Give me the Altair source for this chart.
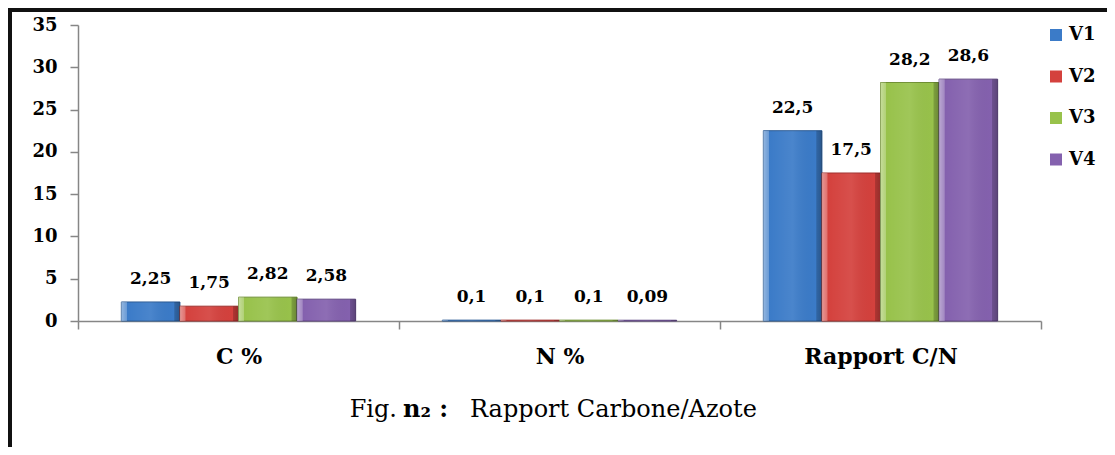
import altair as alt
import pandas as pd

categories = ["C %", "N %", "Rapport C/N"]
series = ["V1", "V2", "V3", "V4"]
v1 = [2.25, 0.1, 22.5]
v2 = [1.75, 0.1, 17.5]
v3 = [2.82, 0.1, 28.2]
v4 = [2.58, 0.09, 28.6]
colors = ["#3B7BC8", "#D4413D", "#98C24B", "#8461AE"]
edges = ["#2A5A94", "#9E2F2C", "#6F8F33", "#5E4582"]
y_ticks = [0, 5, 10, 15, 20, 25, 30, 35]
caption_parts = ["Fig.", "n\u2082 :", "Rapport Carbone/Azote"]

rows = []
for s, vals in zip(series, [v1, v2, v3, v4]):
    for c, v in zip(categories, vals):
        rows.append({"cat": c, "series": s, "value": v,
                     "label": f"{v:g}".replace(".", ",")})
df = pd.DataFrame(rows)

FONT = "DejaVu Serif"
AX = "#868686"

x_enc = alt.X("cat:N", sort=categories,
              scale=alt.Scale(paddingInner=0, paddingOuter=0),
              axis=alt.Axis(title=None, labelAngle=0, tickBand="extent",
                            labelFont=FONT, labelFontWeight="bold", labelFontSize=22,
                            labelColor="black", labelPadding=17, tickSize=8,
                            tickColor=AX, domainColor=AX, domainWidth=1.5, tickWidth=1.5))
xo_enc = alt.XOffset("series:N", sort=series,
                     scale=alt.Scale(paddingInner=0, paddingOuter=0.74))
y_enc = alt.Y("value:Q", scale=alt.Scale(domain=[0, 35], nice=False, zero=True),
              axis=alt.Axis(title=None, values=y_ticks, grid=False,
                            labelFont=FONT, labelFontWeight="bold", labelFontSize=18,
                            labelColor="black", labelPadding=13, tickSize=8,
                            tickColor=AX, domainColor=AX, domainWidth=1.5, tickWidth=1.5))

base = alt.Chart(df)

bars = base.mark_bar(strokeWidth=1).encode(
    x=x_enc, xOffset=xo_enc, y=y_enc,
    color=alt.Color("series:N", sort=series,
                    scale=alt.Scale(domain=series, range=colors),
                    legend=alt.Legend(orient="none", legendX=969, legendY=1, title=None,
                                      labelFont=FONT, labelFontWeight="bold",
                                      labelFontSize=18, labelColor="black",
                                      symbolType="square", symbolSize=144,
                                      symbolStrokeWidth=0, rowPadding=23.5,
                                      padding=0, labelOffset=4)),
    stroke=alt.Stroke("series:N", sort=series,
                      scale=alt.Scale(domain=series, range=edges), legend=None),
)

shade = base.mark_bar(
    color=alt.LinearGradient(
        gradient="linear", x1=0, x2=1, y1=0, y2=0,
        stops=[
            alt.GradientStop(color="rgba(255,255,255,0.45)", offset=0),
            alt.GradientStop(color="rgba(255,255,255,0.25)", offset=0.09),
            alt.GradientStop(color="rgba(255,255,255,0.0)", offset=0.1),
            alt.GradientStop(color="rgba(255,255,255,0.08)", offset=0.5),
            alt.GradientStop(color="rgba(0,0,0,0.0)", offset=0.9),
            alt.GradientStop(color="rgba(0,0,0,0.18)", offset=0.91),
            alt.GradientStop(color="rgba(0,0,0,0.3)", offset=1),
        ],
    )
).encode(x=x_enc, xOffset=xo_enc, y=y_enc)

labels = base.mark_text(baseline="alphabetic", dy=-18, font=FONT, fontWeight="bold",
                        fontSize=17, color="black").encode(
    x=x_enc, xOffset=xo_enc, y=y_enc, text="label:N")

one = pd.DataFrame({"a": [0]})
left_border = alt.Chart(one).mark_rule(color="#111", strokeWidth=4).encode(
    x=alt.value(-68), y=alt.value(-17), y2=alt.value(440))
top_border = alt.Chart(one).mark_rule(color="#111", strokeWidth=4).encode(
    x=alt.value(-70), x2=alt.value(1100), y=alt.value(-15))

cap1 = alt.Chart(one).mark_text(align="right", baseline="alphabetic", font=FONT,
                                fontSize=24, color="black").encode(
    x=alt.value(319), y=alt.value(392), text=alt.value(caption_parts[0]))
cap2 = alt.Chart(one).mark_text(align="left", baseline="alphabetic", font=FONT,
                                fontWeight="bold", fontSize=24, color="black").encode(
    x=alt.value(325), y=alt.value(392), text=alt.value(caption_parts[1]))
cap3 = alt.Chart(one).mark_text(align="left", baseline="alphabetic", font=FONT,
                                fontSize=24, color="black").encode(
    x=alt.value(392), y=alt.value(392), text=alt.value(caption_parts[2]))

chart = alt.layer(bars, shade, labels, left_border, top_border, cap1, cap2, cap3).properties(
    width=963, height=296,
    autosize=alt.AutoSizeParams(type="none"),
    padding={"left": 70, "top": 17, "right": 66, "bottom": 126},
    background="white",
).configure_view(stroke=None)

chart.save("out.html", embed_options={"renderer": "svg", "actions": False})
